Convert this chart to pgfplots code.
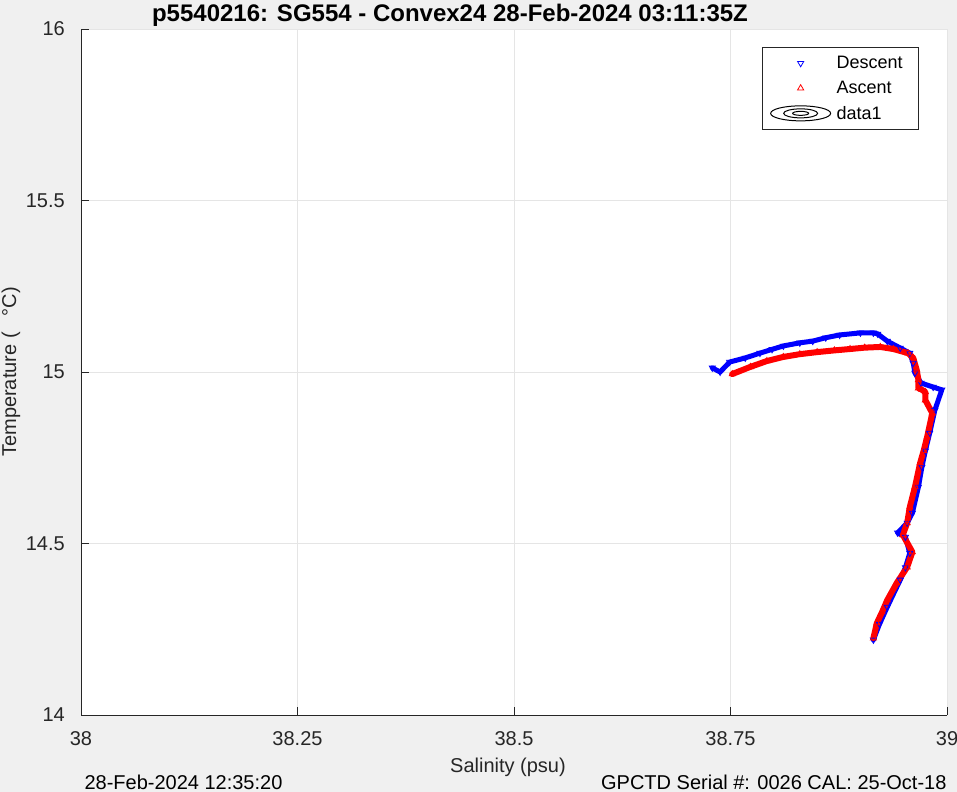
\documentclass[border=0pt]{standalone}
\usepackage{pgfplots}
\usepackage{pgfplotstable}
\pgfplotsset{compat=1.18}
\usepackage{fontspec}
\setmainfont{Liberation Sans}
\definecolor{figbg}{RGB}{240,240,240}
\definecolor{axcol}{RGB}{38,38,38}
\definecolor{gridc}{RGB}{229,229,229}
\definecolor{mblue}{RGB}{0,0,255}
\definecolor{mred}{RGB}{255,0,0}
\pgfplotsset{markleg/.style={legend image code/.code={\path[draw=none,fill=none] (0bp,-5bp) rectangle (68bp,5bp);
    \draw[##1] plot coordinates {(34bp,0bp)};}}}

\pgfplotstableread{
S T
38.729 15.012
38.738 15.000
38.749 15.029
38.767 15.041
38.784 15.055
38.798 15.066
38.811 15.076
38.830 15.085
38.845 15.090
38.860 15.100
38.876 15.108
38.900 15.114
38.915 15.114
38.920 15.111
38.931 15.090
38.946 15.070
38.957 15.055
38.961 15.026
38.963 14.997
38.970 14.968
38.984 14.956
38.994 14.948
38.986 14.889
38.980 14.822
38.975 14.770
38.971 14.723
38.967 14.665
38.960 14.589
38.954 14.560
38.943 14.531
38.952 14.519
38.957 14.472
38.952 14.430
38.946 14.394
38.931 14.315
38.922 14.265
38.915 14.219
}\descent

\pgfplotstableread{
S T
38.752 14.994
38.773 15.015
38.792 15.032
38.811 15.044
38.830 15.052
38.850 15.058
38.870 15.063
38.888 15.067
38.905 15.071
38.923 15.073
38.938 15.067
38.955 15.055
38.961 15.041
38.965 15.006
38.967 14.977
38.967 14.953
38.971 14.948
38.975 14.942
38.975 14.918
38.983 14.880
38.977 14.810
38.973 14.770
38.969 14.735
38.963 14.665
38.957 14.606
38.954 14.560
38.949 14.525
38.960 14.475
38.954 14.431
38.942 14.385
38.931 14.335
38.925 14.300
38.919 14.268
38.915 14.224
}\ascent

\begin{document}
\begin{tikzpicture}
\fill[figbg] (0,0) rectangle (957bp,792bp);
\begin{axis}[
  at={(81bp,77bp)}, anchor=south west,
  scale only axis, width=866bp, height=686bp,
  xmin=38, xmax=39, ymin=14, ymax=16,
  xtick={38,38.25,38.5,38.75,39}, ytick={14,14.5,15,15.5,16},
  xticklabels={38,38.25,38.5,38.75,39}, yticklabels={14,14.5,15,15.5,16},
  axis x line*=bottom, axis y line*=left,
  axis line style={axcol, line width=0.8bp, -},
  tick align=inside, major tick length=8bp,
  tick style={axcol, line width=0.8bp},
  grid=major, grid style={gridc, line width=0.8bp},
  axis background/.style={fill=white},
  ticklabel style={font=\fontsize{20bp}{24bp}\selectfont, text=axcol, inner sep=0pt},
  xticklabel style={anchor=base, yshift=-30bp},
  yticklabel style={anchor=east, xshift=-16bp},
  legend style={at={(0.9677,0.9738)}, anchor=north east, draw=axcol,
    line width=0.8bp, fill=white, font=\fontsize{18bp}{21bp}\selectfont,
    text=black, inner xsep=4bp, inner ysep=7bp, row sep=7bp,
    cells={anchor=west}},
  legend cell align=left,
]
\addplot[mblue, line width=5bp, line join=round, line cap=round, forget plot] table[x=S,y=T]{\descent};
\addplot[only marks, mark=triangle, mark size=3.5bp,
  mark options={rotate=180, draw=mblue, line width=0.8bp}, markleg]
  table[x=S,y=T]{\descent};
\addlegendentry{\makebox[76bp][l]{Descent}}
\addplot[mred, line width=6bp, line join=round, line cap=round, forget plot] table[x=S,y=T]{\ascent};
\addplot[only marks, mark=triangle, mark size=3.5bp,
  mark options={draw=mred, line width=0.8bp}, markleg]
  table[x=S,y=T]{\ascent};
\addlegendentry{Ascent}
\addlegendimage{legend image code/.code={\path[draw=none,fill=none] (0bp,-8bp) rectangle (68bp,8bp);
    \draw[black, line width=1bp] (34bp,0bp) ellipse (30bp and 7.5bp)
      (34bp,0bp) ellipse (17bp and 4.5bp) (34bp,0bp) ellipse (8bp and 2bp);}}
\addlegendentry{data1}
\end{axis}
\node[anchor=base, font=\fontsize{24bp}{28bp}\selectfont\bfseries, text=black]
  at (450bp,770bp) {p5540216: SG554 - Convex24 28-Feb-2024 03:11:35Z};
\node[anchor=base, font=\fontsize{20bp}{24bp}\selectfont, text=axcol]
  at (508bp,20bp) {Salinity (psu)};
\node[anchor=base, rotate=90, font=\fontsize{20bp}{24bp}\selectfont, text=axcol]
  at (16bp,420bp) {Temperature (\hspace{16bp}°C)};
\node[anchor=base west, font=\fontsize{20bp}{24bp}\selectfont, text=black]
  at (81bp,3bp) {28-Feb-2024 12:35:20};
\node[anchor=base east, font=\fontsize{20bp}{24bp}\selectfont, text=black]
  at (950bp,3bp) {GPCTD Serial \#: 0026 CAL: 25-Oct-18};
\pgfresetboundingbox
\useasboundingbox (0,0) rectangle (957bp,792bp);
\end{tikzpicture}
\end{document}
